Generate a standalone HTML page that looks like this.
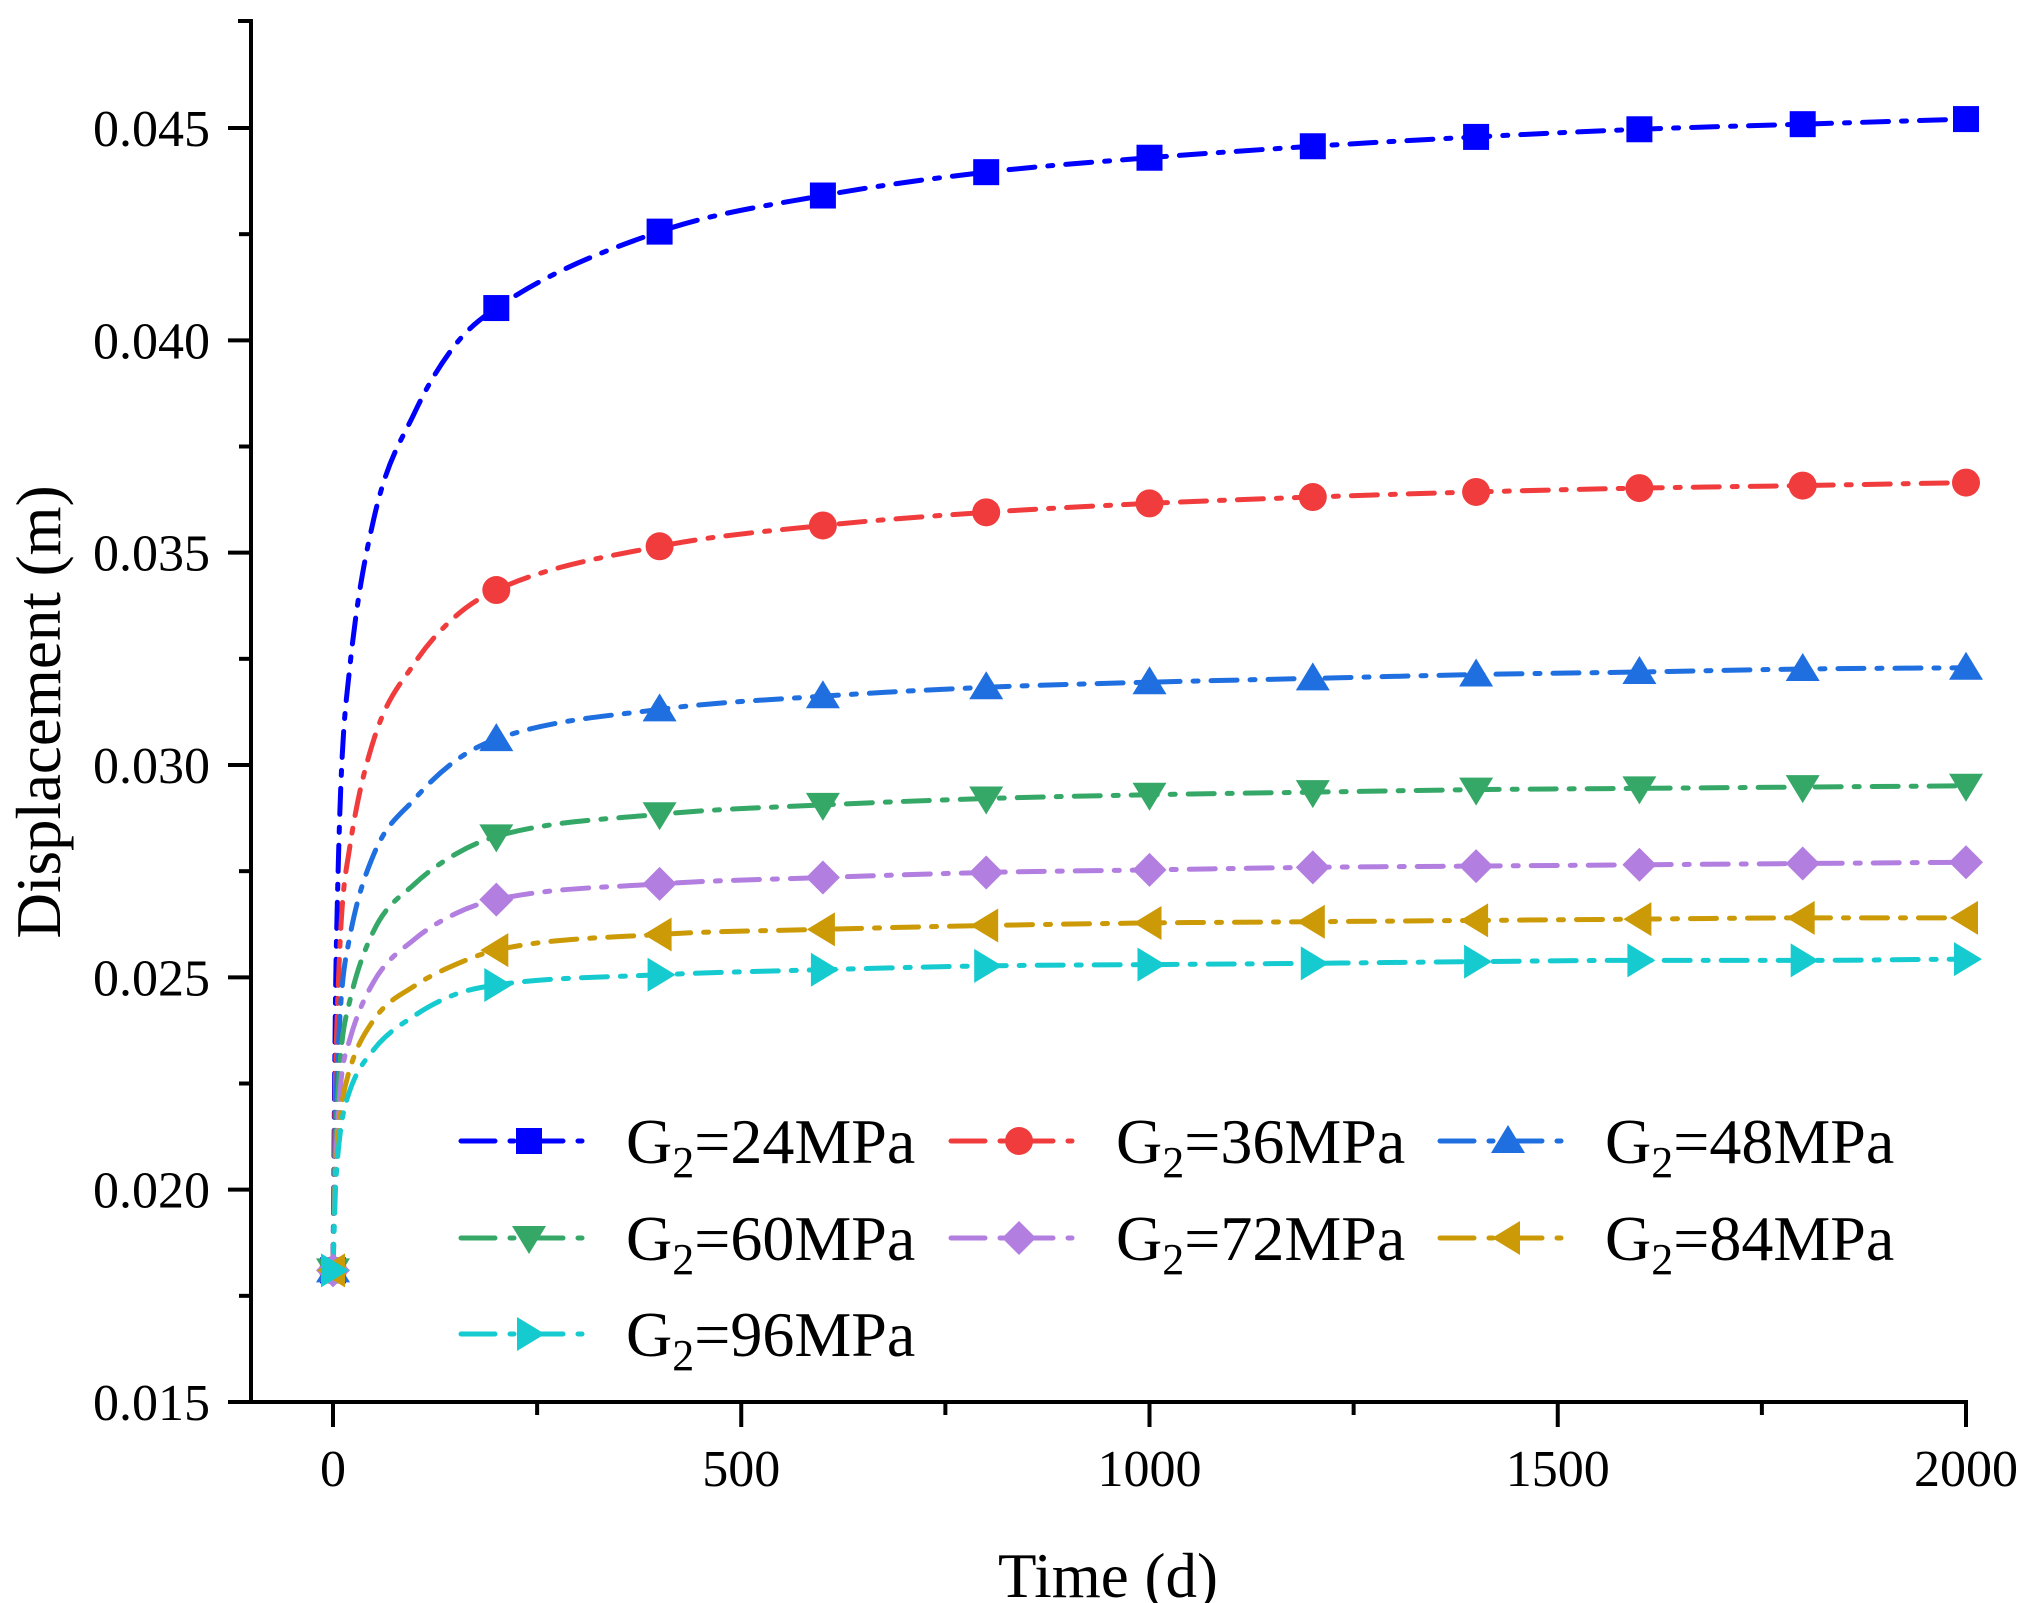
<!DOCTYPE html>
<html><head><meta charset="utf-8"><style>
html,body{margin:0;padding:0;background:#fff;}
svg{display:block;}
text{font-family:"Liberation Serif",serif;fill:#000;}
</style></head><body>
<svg id="chart" width="2034" height="1603" viewBox="0 0 2034 1603" xmlns="http://www.w3.org/2000/svg">
<g id="axes"></g>
<g id="series"></g>
<g id="legend"></g>
</svg>
<script>
const times = [0,3,5,10,20,50,100,150,200,400,600,800,1000,1200,1400,1600,1800,2000];
const s24 = [0.0181,0.0244,0.0265,0.0297,0.0322,0.0358,0.0383,0.0399,0.04076,0.04256,0.04341,0.04396,0.04430,0.04457,0.04479,0.04497,0.04509,0.04521];
const s36 = [0.0181,0.0226,0.0240,0.0263,0.0280,0.0306,0.0324,0.0335,0.03412,0.03515,0.03564,0.03595,0.03616,0.03631,0.03643,0.03652,0.03658,0.03665];
const s48 = [0.0181,0.0216,0.0227,0.0245,0.0259,0.0279,0.0292,0.0301,0.03061,0.03131,0.03162,0.03183,0.03195,0.03204,0.03213,0.03219,0.03226,0.03229];
const s60 = [0.0181,0.0210,0.0219,0.0233,0.0244,0.0261,0.0272,0.0279,0.02832,0.02884,0.02906,0.02921,0.02930,0.02936,0.02942,0.02945,0.02948,0.02951];
const s72 = [0.0181,0.0205,0.0213,0.0226,0.0235,0.0249,0.0259,0.0265,0.02683,0.02720,0.02735,0.02747,0.02753,0.02759,0.02762,0.02765,0.02768,0.02771];
const s84 = [0.0181,0.0202,0.0209,0.0219,0.0228,0.0240,0.0248,0.0253,0.02564,0.02601,0.02613,0.02622,0.02628,0.02631,0.02634,0.02637,0.02640,0.02640];
const s96 = [0.0181,0.0200,0.0206,0.0215,0.0223,0.0233,0.0241,0.0246,0.02482,0.02506,0.02518,0.02527,0.02530,0.02533,0.02537,0.02540,0.02540,0.02543];
const seriesLabels = ["24","36","48","60","72","84","96"];
const xTicks = [0,500,1000,1500,2000];
const xMinor = [250,750,1250,1750];
const yTicks = [0.015,0.020,0.025,0.030,0.035,0.040,0.045];
const yTickLabels = ["0.015","0.020","0.025","0.030","0.035","0.040","0.045"];
const yMinor = [0.0175,0.0225,0.0275,0.0325,0.0375,0.0425];

const NS="http://www.w3.org/2000/svg";
const X0=333, X1=1966, Y15=1402, Y45=128;
const xs=t=>X0+(t/2000)*(X1-X0);
const ys=v=>Y15-(v-0.015)/0.030*(Y15-Y45);
function mk(tag,attrs,parent){const e=document.createElementNS(NS,tag);for(const k in attrs)e.setAttribute(k,attrs[k]);parent.appendChild(e);return e;}

const axes=document.getElementById('axes');
const yAxis=mk('line',{x1:251,y1:20,x2:251,y2:1404,stroke:'#000','stroke-width':4},axes);


const xAxis=mk('line',{x1:228,y1:1402,x2:1968,y2:1402,stroke:'#000','stroke-width':4},axes);


mk('line',{x1:238,y1:21,x2:253,y2:21,stroke:'#000','stroke-width':4},axes);
yTicks.forEach((v,i)=>{
  const y=ys(v);
  const t=mk('line',{x1:228,y1:y,x2:251,y2:y,stroke:'#000','stroke-width':4},axes);
  
  
  const l=mk('text',{x:210,y:y+18,'text-anchor':'end','font-size':52},axes);
  l.textContent=yTickLabels[i];
  
  
});
yMinor.forEach(v=>{
  const y=ys(v);
  const t=mk('line',{x1:239,y1:y,x2:251,y2:y,stroke:'#000','stroke-width':4},axes);
  
  
});
xTicks.forEach(v=>{
  const x=xs(v);
  const t=mk('line',{x1:x,y1:1402,x2:x,y2:1427,stroke:'#000','stroke-width':4},axes);
  
  
  const l=mk('text',{x:x,y:1486,'text-anchor':'middle','font-size':52},axes);
  l.textContent=String(v);
  
  
});
xMinor.forEach(v=>{
  const x=xs(v);
  const t=mk('line',{x1:x,y1:1402,x2:x,y2:1415,stroke:'#000','stroke-width':4},axes);
  
  
});
const xt=mk('text',{x:1108,y:1597,'text-anchor':'middle','font-size':63},axes);
xt.textContent='Time (d)';


const yt=mk('text',{x:0,y:0,'text-anchor':'middle','font-size':63,transform:'translate(60,712) rotate(-90)'},axes);
yt.textContent='Displacement (m)';



const allSeries=[s24,s36,s48,s60,s72,s84,s96];
const colors=['#0000ff','#f03c3c','#1f6fe0','#35a868','#b27ee0','#cc9a06','#15cbcf'];
const shapes=['square','circle','up','down','diamond','left','right'];
const dash='26 13 5 13';

function marker(shape,x,y,color,parent){
  const s=15;let e;
  if(shape==='square') e=mk('rect',{x:x-13,y:y-13,width:26,height:26,fill:color},parent);
  else if(shape==='circle') e=mk('circle',{cx:x,cy:y,r:14,fill:color},parent);
  else {
    let p;
    if(shape==='up') p=[[x,y-s-1],[x+s+2,y+s-3],[x-s-2,y+s-3]];
    else if(shape==='down') p=[[x,y+s+1],[x+s+2,y-s+3],[x-s-2,y-s+3]];
    else if(shape==='diamond') p=[[x,y-s-2],[x+s+2,y],[x,y+s+2],[x-s-2,y]];
    else if(shape==='left') p=[[x-s-1,y],[x+s-3,y-s-2],[x+s-3,y+s+2]];
    else p=[[x+s+1,y],[x-s+3,y-s-2],[x-s+3,y+s+2]];
    e=mk('polygon',{points:p.map(q=>q.join(',')).join(' '),fill:color},parent);
  }
  return e;
}

function monoPath(px,py){
  const n=px.length,d=[],m=[];
  for(let i=0;i<n-1;i++)d.push((py[i+1]-py[i])/(px[i+1]-px[i]));
  m[0]=d[0];m[n-1]=d[n-2];
  for(let i=1;i<n-1;i++){m[i]=(d[i-1]*d[i]<=0)?0:(d[i-1]+d[i])/2;}
  for(let i=0;i<n-1;i++){if(d[i]===0){m[i]=m[i+1]=0;continue;}
    const a=m[i]/d[i],b=m[i+1]/d[i],h=a*a+b*b;if(h>9){const t=3/Math.sqrt(h);m[i]=t*a*d[i];m[i+1]=t*b*d[i];}}
  let s=`M${px[0]},${py[0]}`;
  for(let i=0;i<n-1;i++){const h=px[i+1]-px[i];
    s+=` C${px[i]+h/3},${py[i]+m[i]*h/3} ${px[i+1]-h/3},${py[i+1]-m[i+1]*h/3} ${px[i+1]},${py[i+1]}`;}
  return s;
}

const sg=document.getElementById('series');
allSeries.forEach((vals,si)=>{
  const g=mk('g',{},sg);
  
  
  const px=times.map(xs),py=vals.map(ys);
  const line=mk('path',{d:monoPath(px,py),fill:'none',stroke:colors[si],'stroke-width':5,'stroke-dasharray':dash,'stroke-linecap':'round'},g);
  
  
});
allSeries.forEach((vals,si)=>{
  times.forEach((t,i)=>{
    if(t%200!==0)return;
    const m=marker(shapes[si],xs(t),ys(vals[i]),colors[si],sg);
    
    
  });
});

const lg=document.getElementById('legend');
const colX=[461,951,1440],rowY=[1141,1238,1334];
seriesLabels.forEach((lab,i)=>{
  const cx=colX[i%3],cy=rowY[Math.floor(i/3)];
  const g=mk('g',{},lg);
  
  
  mk('line',{x1:cx,y1:cy,x2:cx+136,y2:cy,stroke:colors[i],'stroke-width':5,'stroke-dasharray':'34 15 4 15','stroke-linecap':'round'},g);
  marker(shapes[i],cx+68,cy,colors[i],g);
  const t=mk('text',{x:cx+165,y:cy+22,'font-size':64},g);
  t.innerHTML='G<tspan font-size="44" dy="14">2</tspan><tspan dy="-14">='+lab+'MPa</tspan>';
});
</script>
</body></html>
